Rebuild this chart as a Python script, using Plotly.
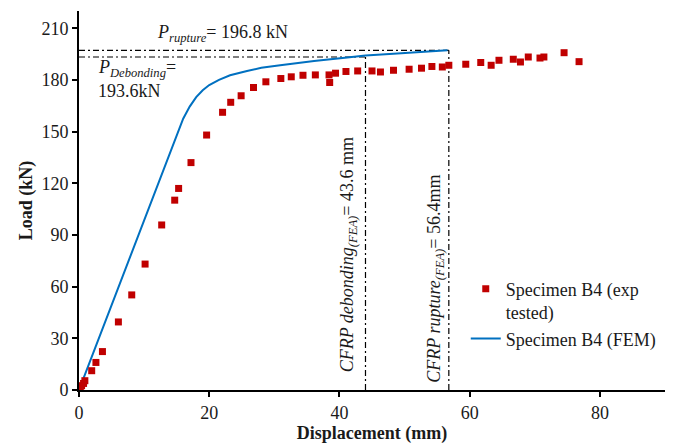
import plotly.graph_objects as go

# Experimental data (Specimen B4, tested)
exp_disp = [0.0, 0.2, 0.4, 0.7, 0.9, 1.95, 2.6, 3.6, 6.05, 8.1, 10.15, 12.7, 14.7,
            15.3, 17.2, 19.6, 22.05, 23.3, 24.9, 26.8, 28.7, 31.0, 32.6, 34.4,
            36.3, 38.4, 38.5, 39.4, 41.0, 42.8, 45.0, 46.3, 48.3, 50.7, 52.6,
            54.2, 55.8, 56.8, 59.4, 61.7, 63.3, 64.5, 66.7, 67.8, 69.0, 70.8,
            71.4, 74.5, 76.8]
exp_load = [0.0, 1.0, 2.5, 3.8, 5.4, 11.2, 16.0, 22.3, 39.5, 55.2, 73.1, 95.8, 110.2,
            117.0, 132.0, 148.0, 161.2, 167.0, 170.8, 175.6, 178.9, 180.8, 181.8, 182.7,
            182.9, 182.9, 178.5, 183.9, 184.9, 185.2, 185.2, 184.6, 185.6, 186.2, 186.8,
            187.8, 187.5, 188.5, 189.1, 190.1, 188.5, 191.4, 192.0, 190.4, 193.3, 192.7,
            193.3, 195.8, 190.6]

# FEM curve (Specimen B4)
fem_disp = [0, 5, 10, 15, 16, 17, 18, 19, 20, 21.5, 23.2, 25.8, 28, 30.9, 36.1,
            41.2, 44, 48.9, 52.5, 56.6]
fem_load = [0, 49.5, 99, 148, 157.5, 164.5, 170, 174, 177, 180, 182.7, 185.2, 187,
            188.5, 191, 193, 194.2, 195.4, 196.3, 197.2]

# Reference levels
P_RUPTURE = 197.2
P_DEBOND = 193.3
D_DEBOND = 44.0
D_RUPTURE = 56.8

x_ticks = [0, 20, 40, 60, 80]
y_ticks = [0, 30, 60, 90, 120, 150, 180, 210]

FONT = "Liberation Serif, Times New Roman, serif"
REF = dict(color="black", width=1.2, dash="6px,3px,2px,3px")

fig = go.Figure()

# reference dash-dot lines
fig.add_trace(go.Scatter(x=[0, D_RUPTURE], y=[P_RUPTURE, P_RUPTURE], mode="lines",
                         line=REF, showlegend=False, hoverinfo="skip"))
fig.add_trace(go.Scatter(x=[0, D_DEBOND], y=[P_DEBOND, P_DEBOND], mode="lines",
                         line=REF, showlegend=False, hoverinfo="skip"))
fig.add_trace(go.Scatter(x=[D_DEBOND, D_DEBOND], y=[0, P_DEBOND], mode="lines",
                         line=REF, showlegend=False, hoverinfo="skip"))
fig.add_trace(go.Scatter(x=[D_RUPTURE, D_RUPTURE], y=[0, P_RUPTURE], mode="lines",
                         line=REF, showlegend=False, hoverinfo="skip"))

fig.add_trace(go.Scatter(x=fem_disp, y=fem_load, mode="lines",
                         name="Specimen B4 (FEM)",
                         line=dict(color="#0070C0", width=2)))
fig.add_trace(go.Scatter(x=exp_disp, y=exp_load, mode="markers",
                         name="Specimen B4 (exp<br>tested)",
                         marker=dict(symbol="square", size=7, color="#C00000")))

anno_font = dict(family=FONT, size=18, color="#1a1a1a")
annotations = [
    dict(x=11.7, y=207, xref="x", yref="y", xanchor="left", yanchor="middle",
         text="<i>P<sub>rupture</sub></i>= 196.8 kN", showarrow=False, font=anno_font),
    dict(x=2.6, y=186.5, xref="x", yref="y", xanchor="left", yanchor="middle",
         text="<i>P<sub>Debonding</sub></i>=", showarrow=False, font=anno_font),
    dict(x=2.6, y=173.5, xref="x", yref="y", xanchor="left", yanchor="middle",
         text="193.6kN", showarrow=False, font=anno_font),
    dict(x=41.4, y=78.5, xref="x", yref="y", xanchor="center", yanchor="middle",
         textangle=-90,
         text="<i>CFRP debonding<sub>(FEA)</sub></i>= 43.6 mm", showarrow=False,
         font=anno_font),
    dict(x=54.8, y=64.5, xref="x", yref="y", xanchor="center", yanchor="middle",
         textangle=-90,
         text="<i>CFRP rupture<sub>(FEA)</sub></i>= 56.4mm", showarrow=False,
         font=anno_font),
]

fig.update_layout(
    width=678, height=446,
    margin=dict(l=79, r=13, t=11, b=53),
    paper_bgcolor="white", plot_bgcolor="white",
    font=dict(family=FONT, size=18, color="#1a1a1a"),
    annotations=annotations,
    legend=dict(x=0.66, y=0.315, xanchor="left", yanchor="top",
                traceorder="reversed", valign="top",
                bgcolor="rgba(0,0,0,0)",
                font=dict(family=FONT, size=18, color="#1a1a1a"),
                tracegroupgap=0),
    showlegend=True,
)
fig.update_xaxes(range=[0, 90], tickvals=x_ticks, showgrid=False, zeroline=False,
                 showline=True, linecolor="black", linewidth=2,
                 ticks="outside", ticklen=5, tickcolor="black", tickwidth=1.5,
                 tickfont=dict(family=FONT, size=18, color="#1a1a1a"),
                 title=dict(text="<b>Displacement (mm)</b>", standoff=0,
                            font=dict(family=FONT, size=18, color="#1a1a1a")))
fig.update_yaxes(range=[0, 220], tickvals=y_ticks, showgrid=False, zeroline=False,
                 showline=True, linecolor="black", linewidth=2,
                 ticks="outside", ticklen=5, tickcolor="black", tickwidth=1.5,
                 tickfont=dict(family=FONT, size=18, color="#1a1a1a"),
                 title=dict(text="<b>Load (kN)</b>", standoff=4,
                            font=dict(family=FONT, size=18, color="#1a1a1a")))

fig.write_html("out.html")
